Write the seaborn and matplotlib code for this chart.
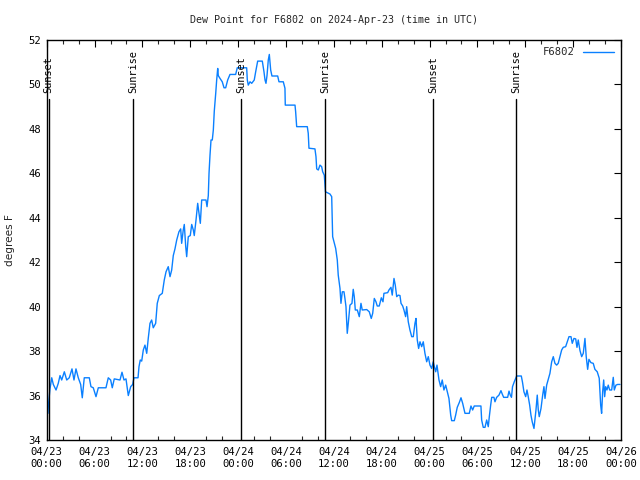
import matplotlib
matplotlib.use("Agg")
import matplotlib.pyplot as plt
import matplotlib.dates as mdates
import numpy as np
import pandas as pd
import seaborn as sns

# ---- data (hours after 2024-04-23 00:00 UTC, dew point in F) ----
hours = [
    0.16, 0.20, 0.33, 0.41, 0.63, 0.83, 1.17, 1.45, 1.67, 1.88, 2.21, 2.51, 2.83, 3.17, 3.42,
    3.67, 3.96, 4.26, 4.46, 4.71, 5.34, 5.55, 5.84, 6.18, 6.47, 7.43, 7.72, 8.02, 8.22, 8.47,
    9.19, 9.44, 9.69, 9.94, 10.23, 10.53, 10.78, 10.94, 11.45, 11.57, 11.73, 11.91, 12.11, 12.32,
    12.54, 12.74, 12.95, 13.16, 13.36, 13.66, 13.86, 14.12, 14.49, 14.74, 14.96, 15.24, 15.46,
    15.67, 15.87, 16.08, 16.30, 16.58, 16.80, 16.92, 17.12, 17.25, 17.43, 17.55, 17.75, 18.00,
    18.18, 18.38, 18.50, 18.72, 18.93, 19.09, 19.26, 19.43, 19.97, 20.10, 20.26, 20.35, 20.47,
    20.60, 20.76, 20.89, 21.01, 21.19, 21.31, 21.44, 21.51, 21.73, 22.01, 22.23, 22.44, 22.69,
    22.98, 23.69, 23.89, 25.07, 25.15, 25.27, 25.49, 25.70, 26.02, 26.20, 26.45, 27.03, 27.24,
    27.37, 27.49, 27.62, 27.78, 27.91, 28.08, 28.24, 28.96, 29.12, 29.66, 29.87, 29.91, 31.13,
    31.21, 31.34, 32.67, 32.79, 32.88, 33.63, 33.76, 33.85, 34.05, 34.26, 34.47, 34.60, 34.80,
    34.89, 34.95, 35.51, 35.73, 35.85, 36.02, 36.23, 36.43, 36.55, 36.77, 36.89, 37.06, 37.27,
    37.39, 37.52, 37.68, 37.81, 38.02, 38.27, 38.43, 38.56, 38.69, 38.94, 39.19, 39.40, 39.56,
    40.12, 40.44, 40.69, 40.87, 41.07, 41.28, 41.44, 41.69, 41.95, 42.16, 42.28, 42.75, 42.91,
    43.16, 43.32, 43.54, 43.70, 43.88, 44.08, 44.29, 44.42, 44.63, 44.79, 45.00, 45.13, 45.33,
    45.54, 45.76, 45.96, 46.17, 46.30, 46.46, 46.63, 46.80, 47.01, 47.21, 47.42, 47.64, 47.84,
    48.05, 48.26, 48.46, 48.55, 48.77, 48.93, 49.18, 49.39, 49.59, 49.80, 50.02, 50.22, 50.43,
    50.65, 50.77, 51.10, 51.27, 51.47, 51.72, 51.94, 52.15, 52.44, 52.98, 53.19, 53.40, 53.60,
    54.44, 54.53, 54.73, 54.95, 55.16, 55.36, 55.49, 55.66, 55.79, 56.07, 56.20, 56.41, 56.70,
    56.95, 57.11, 57.29, 57.79, 57.96, 58.12, 58.27, 58.40, 58.62, 58.92, 59.50, 59.65, 59.83,
    60.05, 60.21, 60.37, 60.55, 60.71, 60.87, 61.09, 61.21, 61.34, 61.50, 61.63, 61.75, 61.97,
    62.18, 62.34, 62.47, 62.68, 62.88, 63.09, 63.31, 63.51, 63.72, 63.93, 64.13, 64.35, 64.56,
    64.76, 65.06, 65.26, 65.48, 65.73, 65.89, 66.10, 66.32, 66.48, 66.64, 66.86, 67.07, 67.27,
    67.48, 67.64, 67.82, 67.98, 68.23, 68.52, 68.73, 69.02, 69.27, 69.45, 69.57, 69.70, 69.83,
    69.95, 70.08, 70.24, 70.40, 70.58, 70.83, 71.03, 71.16, 71.37, 71.58, 71.87,
]
dewpoint = [
    35.2, 35.5, 36.0, 36.3, 36.8, 36.5, 36.25, 36.55, 36.9, 36.7, 37.07, 36.7, 36.8, 37.2, 36.7,
    37.2, 36.8, 36.5, 35.9, 36.8, 36.8, 36.4, 36.35, 35.95, 36.35, 36.35, 36.8, 36.7, 36.35, 36.75,
    36.7, 37.05, 36.7, 36.75, 36.0, 36.4, 36.5, 36.8, 36.8, 37.3, 37.6, 37.55, 38.05, 38.27,
    37.9, 38.6, 39.25, 39.4, 39.05, 39.25, 40.15, 40.5, 40.6, 41.2, 41.57, 41.8, 41.35,
    41.65, 42.3, 42.6, 43.0, 43.37, 43.5, 42.85, 43.45, 43.7, 42.7, 42.25, 43.15, 43.2,
    43.7, 43.45, 43.2, 43.9, 44.65, 44.2, 43.75, 44.8, 44.8, 44.5, 45.0, 46.0, 46.8,
    47.5, 47.5, 47.95, 48.8, 49.6, 50.2, 50.72, 50.4, 50.27, 50.12, 49.85, 49.85, 50.2,
    50.45, 50.45, 50.75, 50.75, 50.2, 49.97, 50.12, 50.05, 50.2, 50.57, 51.05, 51.05, 50.57,
    50.2, 50.05, 50.4, 51.1, 51.35, 50.65, 50.38, 50.38, 50.12, 50.12, 49.83, 49.07, 49.07,
    48.77, 48.1, 48.1, 47.8, 47.13, 47.1, 46.75, 46.2, 46.15, 46.37, 46.3, 46.07, 45.92,
    45.5, 45.17, 45.07, 44.95, 43.15, 42.92, 42.62, 42.1, 41.42, 40.82, 40.15, 40.67, 40.67,
    40.37, 40.0, 38.8, 39.25, 40.07, 40.15, 40.78, 40.45, 39.85, 39.85, 39.55, 40.15, 39.85,
    39.87, 39.77, 39.47, 39.7, 40.37, 40.22, 40.03, 40.03, 40.4, 40.22, 40.6, 40.63, 40.75,
    40.87, 40.52, 41.27, 40.97, 40.45, 40.52, 40.5, 40.15, 40.03, 39.85, 39.55, 40.0, 39.32,
    38.95, 38.65, 38.65, 39.25, 39.47, 38.5, 38.12, 38.42, 38.2, 38.42, 37.9, 37.52, 37.75,
    37.37, 37.22, 37.52, 37.37, 37.07, 37.37, 36.7, 36.4, 36.7, 36.25, 36.47, 36.17, 35.87,
    35.12, 34.87, 34.87, 35.12, 35.47, 35.68, 35.9, 35.65, 35.2, 35.2, 35.53, 35.35, 35.53,
    35.53, 34.9, 34.57, 34.57, 34.9, 34.6, 35.05, 35.57, 35.92, 35.92, 35.72, 35.92, 36.02,
    36.22, 36.07, 35.92, 35.92, 36.2, 36.02, 35.92, 36.4, 36.62, 36.88, 36.88, 36.6, 36.17,
    35.95, 36.25, 35.95, 35.57, 35.12, 34.82, 34.52, 34.9, 35.35, 36.02, 35.35, 35.05, 35.42,
    36.02, 36.4, 35.87, 36.47, 36.73, 37.0, 37.52, 37.75, 37.45, 37.37, 37.45, 37.75, 38.05,
    38.17, 38.2, 38.42, 38.65, 38.65, 38.35, 38.57, 38.55, 38.17, 38.5, 38.02, 37.75, 37.9,
    38.57, 37.75, 37.18, 37.63, 37.48, 37.45, 37.18, 37.07, 36.78, 35.57, 35.2, 36.17, 36.7,
    35.95, 36.4, 36.25, 36.47, 36.25, 36.25, 36.82, 36.25, 36.47, 36.5, 36.5,
]
sun_labels = ["Sunset", "Sunrise", "Sunset", "Sunrise", "Sunset", "Sunrise"]
sun_hours = [0.23, 10.86, 24.36, 34.89, 48.46, 58.89]
series_name = "F6802"
title = "Dew Point for F6802 on 2024-Apr-23 (time in UTC)"
ylabel = "degrees F"

start = pd.Timestamp("2024-04-23 00:00")
df = pd.DataFrame({
    "time": start + pd.to_timedelta(hours, unit="h"),
    "dew": dewpoint,
})

sns.set_style("white")
plt.rcParams["font.family"] = ["DejaVu Sans Mono", "DejaVu Sans"]

fig = plt.figure(figsize=(6.4, 4.8), dpi=100)
ax = fig.add_axes([46.7 / 640, 40 / 480, (621 - 46.7) / 640, 400 / 480])

sns.lineplot(data=df, x="time", y="dew", ax=ax, color="#0a80ff", linewidth=1.0,
             label=series_name, estimator=None, sort=False)

ax.set_xlim(start, start + pd.Timedelta(hours=72))
ax.set_ylim(34, 52)
ax.set_yticks(np.arange(34, 53, 2))

ax.xaxis.set_major_locator(mdates.HourLocator(byhour=[0, 6, 12, 18]))
ax.xaxis.set_minor_locator(mdates.HourLocator(interval=2))
ax.xaxis.set_major_formatter(mdates.DateFormatter("%m/%d\n%H:%M"))

for h, lab in zip(sun_hours, sun_labels):
    t = start + pd.Timedelta(hours=h)
    ax.plot([t, t], [34, 49.35], color="black", linewidth=1.0, zorder=3)
    ax.text(t, 49.62, lab, rotation=90, ha="center", va="bottom", fontsize=7.4, color="black")

ax.tick_params(axis="both", which="major", direction="in", length=5, width=0.8,
               top=True, right=True, labelsize=7.6, pad=4, colors="black")
ax.tick_params(axis="x", which="minor", direction="in", length=2.8, width=0.8,
               top=True, bottom=True)
ax.tick_params(axis="x", which="major", pad=5)

for sp in ax.spines.values():
    sp.set_color("black")
    sp.set_linewidth(1.0)

ax.set_xlabel("")
ax.set_ylabel(ylabel, fontsize=7.6, family="DejaVu Sans", labelpad=10)
ax.set_title(title, fontsize=7.2, pad=12.5)

leg = ax.legend(loc="upper right", frameon=False, markerfirst=False, fontsize=7.6,
                handlelength=2.9, borderaxespad=0.3, handletextpad=0.8)

fig.savefig("out.png", dpi=100)
